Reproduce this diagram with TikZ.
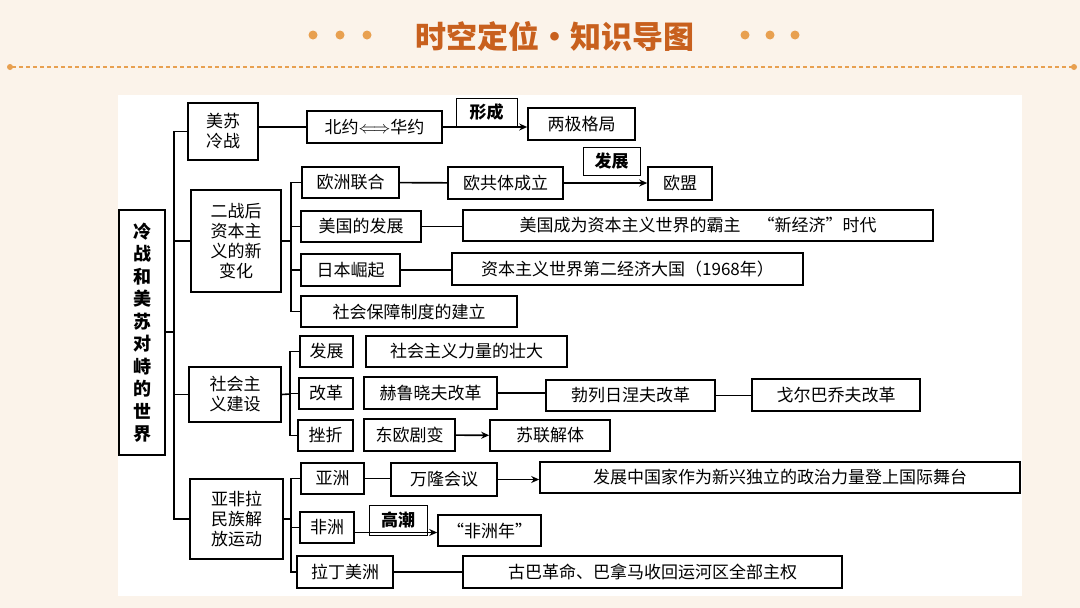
\documentclass[tikz,border=0pt]{standalone}
\usepackage{fontspec}
\setmainfont{Noto Sans CJK SC}
\usetikzlibrary{arrows.meta}
\definecolor{bgc}{HTML}{FBF3EA}
\definecolor{ttl}{HTML}{C8601E}
\definecolor{dotc}{HTML}{E8A050}
\tikzset{
  bx/.style={draw, line width=1.6pt, inner sep=0pt, font=\fontsize{17}{20}\selectfont, align=center},
  rootbx/.style={bx, font=\bfseries\fontsize{18}{22.5}\selectfont},
  lb/.style={draw, line width=0.8pt, inner sep=0pt, font=\bfseries\fontsize{17}{20}\selectfont},
  ln/.style={line width=1.6pt},
  ar/.style={line width=1.6pt, -{Stealth[length=8pt,width=7pt]}}
}
\newcommand\bx[7][bx]{\node[#1, minimum width={(#5-#3)*1pt}, minimum height={(#6-#4)*1pt}] (#2) at ({(#3+#5)/2},{(#4+#6)/2}) {#7};}
\begin{document}
\begin{tikzpicture}[x=1pt,y=-1pt]
\useasboundingbox (0,0) rectangle (1080,608);
\fill[bgc] (0,0) rectangle (1080,608);
\fill[white] (118,95) rectangle (1022,596);
% title
\node[text=ttl, font=\bfseries\fontsize{31}{34}\selectfont] (title) at (555,36) {时空定位·知识导图};
\foreach \x in {313,340,367,745,770,795} \fill[dotc] (\x,35) circle (4.5);
\draw[dotc, line width=1.2pt, dash pattern=on 4pt off 3pt] (12,67) -- (1072,67);
\fill[dotc] (10,67) circle (3); \fill[dotc] (1074,67) circle (3);
% root
\bx[rootbx]{root}{119}{210}{165}{455}{冷\\战\\和\\美\\苏\\对\\峙\\的\\世\\界}
% level 1
\bx{a}{188}{103}{258}{160}{美苏\\冷战}
\bx{b}{191}{190}{281}{292}{二战后\\资本主\\义的新\\变化}
\bx{c}{189}{367}{281}{422}{社会主\\义建设}
\bx{d}{190}{479}{283}{559}{亚非拉\\民族解\\放运动}
% a row
\bx{a1}{307}{111}{442}{143}{北约$\Longleftrightarrow$华约}
\bx[lb]{a2l}{456}{98}{517}{126}{形成}
\bx{a2}{528}{108}{635}{140}{两极格局}
% b rows
\bx{b1}{302}{167}{399}{198}{欧洲联合}
\bx{b1a}{448}{167}{563}{199}{欧共体成立}
\bx[lb]{b1l}{583}{147}{640}{175}{发展}
\bx{b1b}{648}{167}{712}{200}{欧盟}
\bx{b2}{301}{211}{421}{242}{美国的发展}
\bx{b2a}{463}{210}{933}{241}{美国成为资本主义世界的霸主\quad “新经济”时代}
\bx{b3}{301}{254}{400}{286}{日本崛起}
\bx{b3a}{452}{253}{803}{285}{资本主义世界第二经济大国（1968年）}
\bx{b4}{301}{296}{517}{327}{社会保障制度的建立}
% c rows
\bx{c1}{300}{336}{353}{367}{发展}
\bx{c1a}{366}{336}{567}{367}{社会主义力量的壮大}
\bx{c2}{299}{378}{353}{409}{改革}
\bx{c2a}{364}{377}{497}{409}{赫鲁晓夫改革}
\bx{c2b}{546}{380}{715}{411}{勃列日涅夫改革}
\bx{c2c}{752}{379}{920}{411}{戈尔巴乔夫改革}
\bx{c3}{298}{420}{353}{451}{挫折}
\bx{c3a}{364}{419}{455}{451}{东欧剧变}
\bx{c3b}{490}{420}{610}{451}{苏联解体}
% d rows
\bx{d1}{301}{463}{364}{494}{亚洲}
\bx{d1a}{391}{463}{497}{496}{万隆会议}
\bx{d1b}{540}{462}{1020}{493}{发展中国家作为新兴独立的政治力量登上国际舞台}
\bx{d2}{300}{512}{354}{543}{非洲}
\bx[lb]{d2l}{369}{505}{427}{535}{高潮}
\bx{d2a}{438}{515}{541}{546}{“非洲年”}
\bx{d3}{297}{556}{393}{588}{拉丁美洲}
\bx{d3a}{463}{556}{842}{588}{古巴革命、巴拿马收回运河区全部主权}
% brackets
\draw[ln] (root.east |- 0,332) -- (175,332);
\draw[ln] (a.west) -- ++(-13,0) coordinate (ta) -- (ta |- d.west) -- (d.west);
\draw[ln] (b.west) -- (ta |- b.west);
\draw[ln] (c.west) -- (ta |- c.west);
\draw[ln] (b.east) -- (291,241);
\draw[ln] (b1.west) -- (291,182.5) -- (291,311.5) -- (b4.west);
\draw[ln] (b2.west) -- (291,226.5); \draw[ln] (b3.west) -- (291,270);
\draw[ln] (c.east) -- (290,394);
\draw[ln] (c1.west) -- (290,351.5) -- (290,435.5) -- (c3.west);
\draw[ln] (c2.west) -- (290,393.5);
\draw[ln] (d.east) -- (291,519);
\draw[ln] (d1.west) -- (291,478.5) -- (291,572) -- (d3.west);
\draw[ln] (d2.west) -- (291,527.5);
% connectors
\draw[ln] (a.east |- a1.west) -- (a1.west);
\draw[ar] (a1.east) -- (a2.west |- a1.east);
\draw[ln] (b1) -- (b1a);
\draw[ar] (b1a.east) -- (b1b.west |- b1a.east);
\draw[ln] (b2) -- (b2a.west |- b2.east);
\draw[ln] (b3) -- (b3a.west |- b3.east);
\draw[ln] (c2a) -- (c2b.west |- c2a.east);
\draw[ln] (c2b.east) -- (c2c.west |- c2b.east);
\draw[ar] (c3a) -- (c3b);
\draw[ln] (d1) -- (d1a.west |- d1.east);
\draw[ar] (d1a.east) -- (d1b.west |- d1a.east);
\draw[ar] (d2.east |- 0,532.5) -- (d2a.west |- 0,532.5);
\draw[ln] (d3) -- (d3a);
\end{tikzpicture}
\end{document}
